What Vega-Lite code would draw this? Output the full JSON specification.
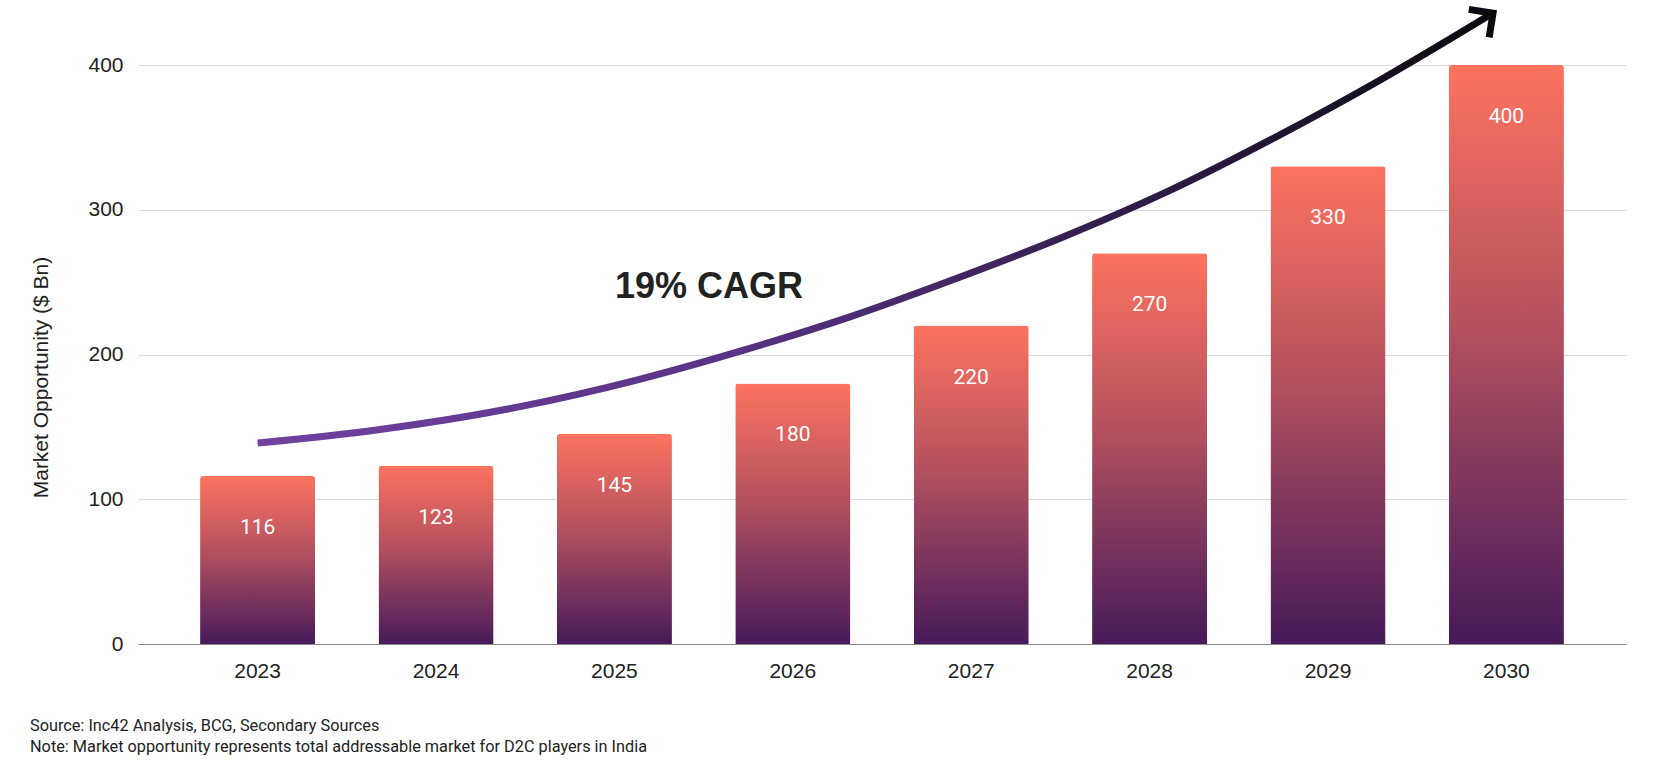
{
  "$schema": "https://vega.github.io/schema/vega-lite/v6.json",
  "width": 1488,
  "height": 579,
  "autosize": {"type": "none"},
  "padding": {"left": 138, "top": 65, "right": 40, "bottom": 128},
  "background": "white",
  "config": {"view": {"stroke": null}, "font": "Liberation Sans"},
  "datasets": {
    "bars": [
      {"year": "2023", "value": 116},
      {"year": "2024", "value": 123},
      {"year": "2025", "value": 145},
      {"year": "2026", "value": 180},
      {"year": "2027", "value": 220},
      {"year": "2028", "value": 270},
      {"year": "2029", "value": 330},
      {"year": "2030", "value": 400}
    ],
    "curve": [
      {"t": 0, "v": 138.8},
      {"t": 0.686, "v": 148.2},
      {"t": 1.471, "v": 164},
      {"t": 2.13, "v": 182.5},
      {"t": 2.725, "v": 203},
      {"t": 3.32, "v": 226},
      {"t": 3.916, "v": 252.5},
      {"t": 4.512, "v": 281},
      {"t": 5.108, "v": 313},
      {"t": 5.704, "v": 350},
      {"t": 6.298, "v": 390},
      {"t": 6.9, "v": 434}
    ],
    "arrow": [{"t": 6.925, "v": 435.8}],
    "cagr": [{"t": 2.53, "v": 246.5, "label": "19% CAGR"}]
  },
  "title": {
    "text": [
      "Source: Inc42 Analysis, BCG, Secondary Sources",
      "Note: Market opportunity represents total addressable market for D2C players in India"
    ],
    "orient": "bottom",
    "anchor": "start",
    "frame": "group",
    "dx": -108,
    "offset": 37,
    "font": "Roboto",
    "fontSize": 16.3,
    "fontWeight": "normal",
    "color": "#222222",
    "lineHeight": 21
  },
  "layer": [
    {
      "data": {"name": "bars"},
      "encoding": {
        "x": {
          "field": "year",
          "type": "ordinal",
          "scale": {"paddingInner": 0.355, "paddingOuter": 0.348},
          "axis": {
            "title": null,
            "ticks": false,
            "labelAngle": 0,
            "labelFont": "Liberation Sans",
            "labelFontSize": 21,
            "labelColor": "#222222",
            "labelPadding": 16,
            "domainColor": "#888888",
            "domainWidth": 1.2,
            "grid": false
          }
        },
        "y": {
          "field": "value",
          "type": "quantitative",
          "scale": {"domain": [0, 400], "nice": false},
          "axis": {
            "values": [0, 100, 200, 300, 400],
            "domain": false,
            "ticks": false,
            "grid": true,
            "gridColor": "#dcdcdc",
            "gridWidth": 1,
            "labelFont": "Liberation Sans",
            "labelFontSize": 21,
            "labelColor": "#222222",
            "labelPadding": 15,
            "title": "Market Opportunity ($ Bn)",
            "titleFont": "Liberation Sans",
            "titleFontSize": 21,
            "titleFontWeight": "normal",
            "titleColor": "#222222",
            "titleAngle": -90,
            "titleAlign": "center",
            "titleBaseline": "middle",
            "titleX": -97,
            "titleY": 312
          }
        }
      },
      "layer": [
        {
          "mark": {
            "type": "bar",
            "cornerRadiusTopLeft": 3,
            "cornerRadiusTopRight": 3,
            "fill": {
              "gradient": "linear",
              "x1": 0, "y1": 0, "x2": 0, "y2": 1,
              "stops": [
                {"offset": 0, "color": "#fd735f"},
                {"offset": 0.45, "color": "#b4515f"},
                {"offset": 1, "color": "#471a5a"}
              ]
            }
          }
        },
        {
          "mark": {
            "type": "text",
            "font": "Roboto",
            "fontSize": 21,
            "color": "#ffffff",
            "baseline": "middle",
            "align": "center",
            "dy": 52
          },
          "encoding": {"text": {"field": "value", "type": "quantitative"}}
        }
      ]
    },
    {
      "layer": [
        {
          "data": {"name": "curve"},
          "mark": {
            "type": "line",
            "interpolate": "monotone",
            "strokeWidth": 7,
            "strokeCap": "butt",
            "stroke": {
              "gradient": "linear",
              "x1": 0, "y1": 0, "x2": 1, "y2": 0,
              "stops": [
                {"offset": 0, "color": "#7241a1"},
                {"offset": 0.4, "color": "#573283"},
                {"offset": 0.75, "color": "#2c1940"},
                {"offset": 1, "color": "#0c0a10"}
              ]
            }
          },
          "encoding": {
            "x": {"field": "t", "type": "quantitative", "scale": {"domain": [-0.6705, 7.6705], "nice": false, "zero": false}, "axis": null},
            "y": {"field": "v", "type": "quantitative", "scale": {"domain": [0, 400], "nice": false}, "axis": null}
          }
        },
        {
          "data": {"name": "arrow"},
          "mark": {
            "type": "point",
            "shape": "M -0.7 -0.7 L 0 0 L -0.7 0.7",
            "filled": false,
            "stroke": "#0c0a10",
            "strokeWidth": 7,
            "strokeJoin": "miter",
            "strokeCap": "butt",
            "opacity": 1,
            "size": 2450,
            "angle": -36
          },
          "encoding": {
            "x": {"field": "t", "type": "quantitative", "scale": {"domain": [-0.6705, 7.6705], "nice": false, "zero": false}, "axis": null},
            "y": {"field": "v", "type": "quantitative", "scale": {"domain": [0, 400], "nice": false}, "axis": null}
          }
        },
        {
          "data": {"name": "cagr"},
          "mark": {
            "type": "text",
            "font": "Liberation Sans",
            "fontSize": 36,
            "fontWeight": "bold",
            "color": "#222222",
            "align": "center",
            "baseline": "middle"
          },
          "encoding": {
            "x": {"field": "t", "type": "quantitative", "scale": {"domain": [-0.6705, 7.6705], "nice": false, "zero": false}, "axis": null},
            "y": {"field": "v", "type": "quantitative", "scale": {"domain": [0, 400], "nice": false}, "axis": null},
            "text": {"field": "label"}
          }
        }
      ]
    }
  ],
  "resolve": {"scale": {"x": "independent"}, "axis": {"x": "independent", "y": "independent"}}
}
